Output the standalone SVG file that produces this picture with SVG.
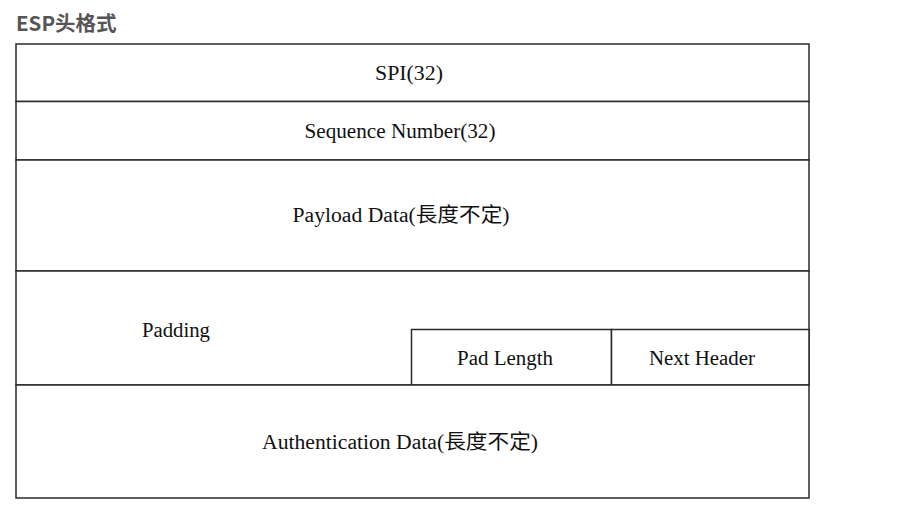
<svg xmlns="http://www.w3.org/2000/svg" width="909" height="524" viewBox="0 0 909 524">
  <style>
    .title { font-family: "Noto Sans CJK SC", "Noto Sans", sans-serif; font-weight: bold; font-size: 20.5px; fill: #555555; }
    .cell { fill: #ffffff; stroke: #2a2a2a; stroke-width: 1.5; }
    .lbl { font-family: "Liberation Serif", "Noto Sans CJK TC", serif; font-size: 20px; fill: #111111; text-anchor: middle; }
  </style>
  <rect width="909" height="524" fill="#ffffff"/>
  <text class="title" x="16" y="31">ESP头格式</text>

  <g id="spi">
    <rect class="cell" x="16" y="44" width="793" height="57.5"/>
    <text class="lbl" x="409" y="80" textLength="68" lengthAdjust="spacingAndGlyphs">SPI(32)</text>
  </g>
  <g id="sequence-number">
    <rect class="cell" x="16" y="101.5" width="793" height="58.5"/>
    <text class="lbl" x="400" y="138" textLength="191" lengthAdjust="spacingAndGlyphs">Sequence Number(32)</text>
  </g>
  <g id="payload-data">
    <rect class="cell" x="16" y="160" width="793" height="111"/>
    <text class="lbl" x="401" y="222" textLength="217" lengthAdjust="spacingAndGlyphs">Payload Data(長度不定)</text>
  </g>
  <g id="padding">
    <rect class="cell" x="16" y="271" width="793" height="114"/>
    <text class="lbl" x="176" y="337" textLength="68" lengthAdjust="spacingAndGlyphs">Padding</text>
  </g>
  <g id="pad-length">
    <rect class="cell" x="411.5" y="329.5" width="200" height="55.5"/>
    <text class="lbl" x="505" y="365" textLength="96" lengthAdjust="spacingAndGlyphs">Pad Length</text>
  </g>
  <g id="next-header">
    <rect class="cell" x="611.5" y="329.5" width="197.5" height="55.5"/>
    <text class="lbl" x="702" y="365" textLength="106" lengthAdjust="spacingAndGlyphs">Next Header</text>
  </g>
  <g id="authentication-data">
    <rect class="cell" x="16" y="385" width="793" height="113"/>
    <text class="lbl" x="400" y="449" textLength="276" lengthAdjust="spacingAndGlyphs">Authentication Data(長度不定)</text>
  </g>
</svg>
